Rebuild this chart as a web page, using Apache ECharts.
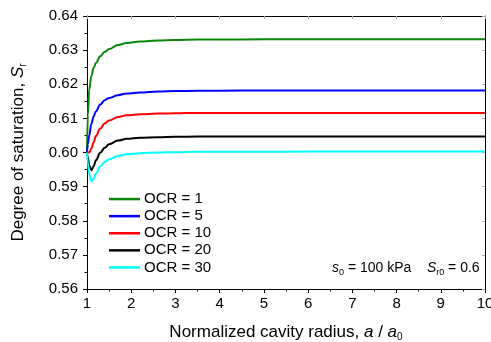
<!DOCTYPE html>
<html>
<head>
<meta charset="utf-8">
<script src="https://cdn.jsdelivr.net/npm/echarts@6/dist/echarts.min.js"></script>
<style>
  html, body { margin: 0; padding: 0; background: #fff; }
  #chart { width: 491px; height: 342px; }
</style>
</head>
<body>
<div id="chart"></div>
<script>
// normalized cavity radius a / a0
const radius = [1, 1.02, 1.05, 1.1, 1.15, 1.2, 1.3, 1.4, 1.5, 1.7, 1.9, 2.2, 2.6, 3, 3.5, 4, 5, 6, 7, 8, 9, 10]

// degree of saturation Sr for each OCR
const ocr1 = [0.600, 0.611, 0.6185, 0.6225, 0.6248, 0.6262, 0.6282, 0.6295, 0.6303, 0.6315, 0.6321, 0.6325, 0.6328, 0.6330, 0.6331, 0.6331, 0.6332, 0.6332, 0.6332, 0.6332, 0.6332, 0.6332]
const ocr5 = [0.600, 0.6025, 0.6050, 0.6085, 0.6105, 0.6120, 0.6141, 0.6153, 0.6160, 0.6168, 0.6173, 0.6176, 0.6179, 0.6180, 0.6181, 0.6181, 0.6182, 0.6182, 0.6182, 0.6182, 0.6182, 0.6182]
const ocr10 = [0.6003, 0.6001, 0.6000, 0.6012, 0.6030, 0.6048, 0.6070, 0.6085, 0.6094, 0.6104, 0.6109, 0.6112, 0.6114, 0.6115, 0.6116, 0.6116, 0.6116, 0.6116, 0.6116, 0.6116, 0.6116, 0.6116]
const ocr20 = [0.600, 0.5985, 0.5962, 0.5948, 0.5960, 0.5977, 0.5999, 0.6014, 0.6024, 0.6035, 0.6040, 0.6043, 0.6045, 0.6046, 0.6047, 0.6047, 0.6047, 0.6047, 0.6047, 0.6047, 0.6047, 0.6047]
const ocr30 = [0.600, 0.5970, 0.5935, 0.5916, 0.5922, 0.5938, 0.5959, 0.5972, 0.5980, 0.5990, 0.5995, 0.5998, 0.6000, 0.6001, 0.6002, 0.6002, 0.6002, 0.6003, 0.6003, 0.6003, 0.6003, 0.6003]

const seriesNames = ['OCR = 1', 'OCR = 5', 'OCR = 10', 'OCR = 20', 'OCR = 30']
const seriesColors = ['#0a870a', '#0000ff', '#ff0000', '#000000', '#00ffff']
const seriesValues = [ocr1, ocr5, ocr10, ocr20, ocr30]

const FONT = 'Liberation Sans, Arial, sans-serif'

const chart = echarts.init(document.getElementById('chart'))

const axisLine = { show: true, lineStyle: { color: '#000', width: 1 } }

const titleRich = {
  n: { fontSize: 17, fontFamily: FONT, color: '#000' },
  i: { fontSize: 17, fontFamily: FONT, fontStyle: 'italic', color: '#000' },
  s: { fontSize: 10, fontFamily: FONT, color: '#000', verticalAlign: 'bottom', padding: [10, 0, 0, 0] }
}

chart.setOption({
  animation: false,
  backgroundColor: '#fff',
  textStyle: { fontFamily: FONT, color: '#000' },
  grid: { left: 87, right: 6, top: 16, bottom: 53, containLabel: false, outerBoundsMode: 'none' },
  legend: {
    orient: 'vertical',
    left: 109,
    top: 190.5,
    padding: 0,
    icon: 'rect',
    itemWidth: 31,
    itemHeight: 2.5,
    itemGap: 0,
    data: seriesNames,
    textStyle: { fontSize: 15, lineHeight: 17.1, color: '#000', fontFamily: FONT, padding: [0, 0, 0, -1] }
  },
  xAxis: [
    {
      type: 'value',
      min: 1,
      max: 10,
      interval: 1,
      name: '{n|Normalized cavity radius, }{i|a}{n| / }{i|a}{s|0}',
      nameLocation: 'middle',
      nameGap: 33,
      nameTextStyle: { rich: titleRich },
      axisLine: axisLine,
      axisTick: { show: true, length: 4, lineStyle: { color: '#000' } },
      minorTick: { show: true, splitNumber: 2, length: 2.5, lineStyle: { color: '#000' } },
      axisLabel: { fontSize: 15, color: '#000', margin: 7, fontFamily: FONT },
      splitLine: { show: false }
    },
    {
      type: 'value',
      position: 'top',
      min: 1,
      max: 10,
      interval: 1,
      axisLine: axisLine,
      axisTick: { show: true, inside: true, length: 3, lineStyle: { color: '#aaa' } },
      axisLabel: { show: false },
      splitLine: { show: false }
    }
  ],
  yAxis: [
    {
      type: 'value',
      min: 0.56,
      max: 0.64,
      interval: 0.01,
      name: '{n|Degree of saturation, }{i|S}{s|r}',
      nameLocation: 'middle',
      nameRotate: 90,
      nameGap: 59,
      nameTextStyle: { rich: titleRich },
      axisLine: axisLine,
      axisTick: { show: true, length: 4, lineStyle: { color: '#000' } },
      minorTick: { show: true, splitNumber: 2, length: 2.5, lineStyle: { color: '#000' } },
      axisLabel: {
        fontSize: 15,
        color: '#000',
        margin: 9,
        fontFamily: FONT,
        formatter: v => v.toFixed(2)
      },
      splitLine: { show: false }
    },
    {
      type: 'value',
      position: 'right',
      min: 0.56,
      max: 0.64,
      interval: 0.01,
      axisLine: axisLine,
      axisTick: { show: true, inside: true, length: 3, lineStyle: { color: '#aaa' } },
      axisLabel: { show: false },
      splitLine: { show: false }
    }
  ],
  graphic: [
    {
      type: 'text',
      left: 332,
      top: 261,
      style: {
        text: '{i|s}{s|0}{n| = 100 kPa    }{i|S}{s|r0}{n| = 0.6}',
        rich: {
          n: { fontSize: 14, fontFamily: FONT, fill: '#000' },
          i: { fontSize: 14, fontFamily: FONT, fontStyle: 'italic', fill: '#000' },
          s: { fontSize: 9, fontFamily: FONT, fill: '#000', verticalAlign: 'bottom', padding: [9, 0, 0, 0] }
        }
      }
    }
  ],
  series: seriesNames.map((name, k) => ({
    name: name,
    type: 'line',
    xAxisIndex: 0,
    yAxisIndex: 0,
    data: radius.map((x, i) => [x, seriesValues[k][i]]),
    smooth: 0.4,
    smoothMonotone: 'x',
    symbol: 'none',
    lineStyle: { color: seriesColors[k], width: 2 },
    itemStyle: { color: seriesColors[k] }
  }))
})
</script>
</body>
</html>
